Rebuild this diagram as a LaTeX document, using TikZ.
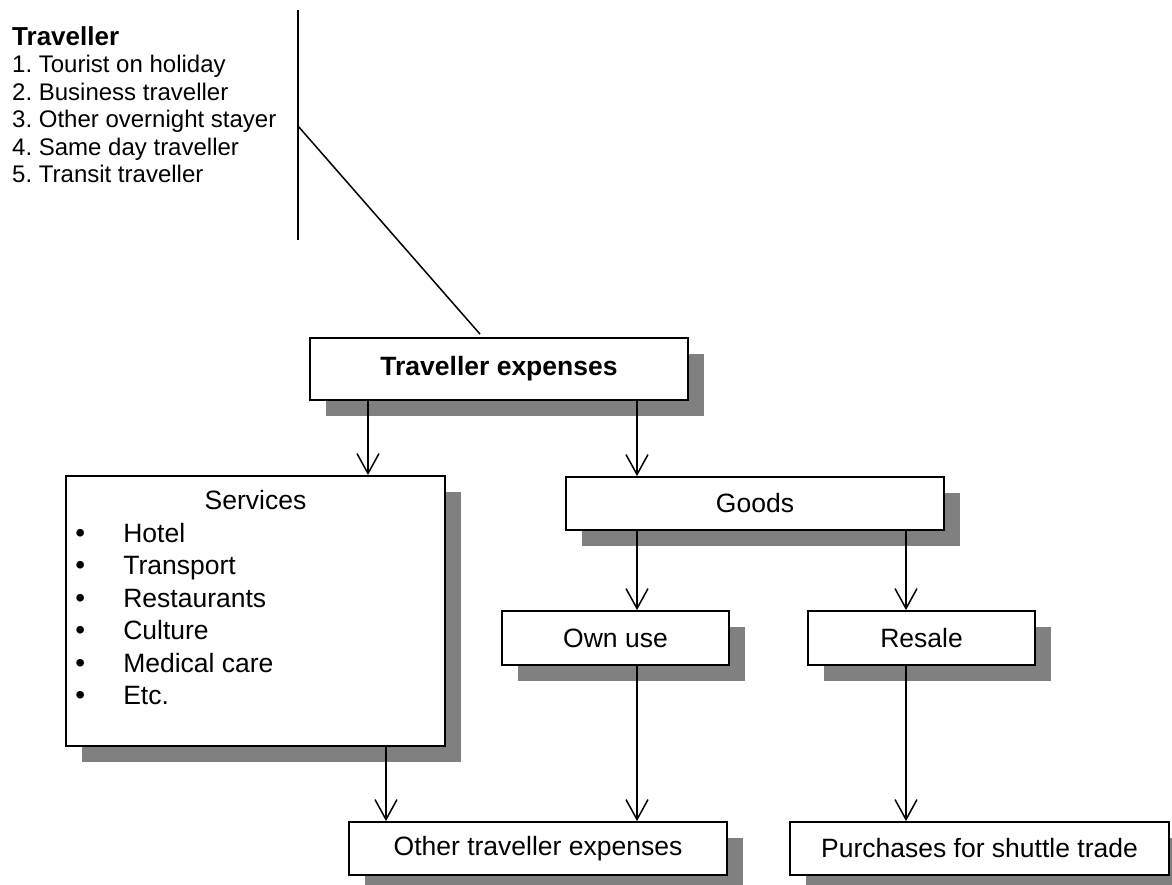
\documentclass[tikz,border=0pt]{standalone}
\usepackage{fontspec}
\setmainfont{Liberation Sans}
\usetikzlibrary{shadows,arrows.meta}
\frenchspacing
\newcommand{\gros}{{\fontsize{28}{28}\selectfont\textbullet}}

\begin{document}
\begin{tikzpicture}[
        x=1pt, y=-1pt,
        box/.style={draw=black, line width=1.8pt, fill=white, inner sep=0pt,
            drop shadow={shadow xshift=16pt, shadow yshift=-16pt, fill=black!50, opacity=1},
            font=\fontsize{26.5}{32.5}\selectfont},
        arr/.style={line width=1.5pt, -{Straight Barb[length=20pt,width=22pt]}},
        ligne/.style={line width=1.5pt},
    ]
    \useasboundingbox (0,0) rectangle (1172,885);
    % traveller types
    \node[anchor=north west, align=left, inner sep=0pt, font=\fontsize{24}{27.5}\selectfont] (trav) at (12,26)
        {{\bfseries\fontsize{26}{27.5}\selectfont Traveller}\\
        1. Tourist on holiday\\
        2. Business traveller\\
        3. Other overnight stayer\\
        4. Same day traveller\\
        5. Transit traveller};
    \coordinate (vtop) at (298,10);
    \coordinate (vbot) at (298,240);
    \coordinate (vmid) at (298,126);

    \node[box, minimum width=378pt, minimum height=62pt, font=\bfseries\fontsize{26.5}{32.5}\selectfont] (te) at (499,369) {Traveller expenses};
    \node[box, minimum width=379pt, minimum height=270pt] (serv) at (255.5,611) {};
    \node[anchor=base, font=\fontsize{26.5}{32.5}\selectfont] (servtitle) at ([yshift=-34pt]serv.north) {Services};
    \node[anchor=base west, inner sep=0pt, font=\fontsize{26.5}{32.5}\selectfont] (servlist) at ([xshift=10pt,yshift=-67pt]serv.north west)
        {\begin{tabular}[t]{@{}p{48pt}@{}l@{}}
            \gros & Hotel\\
            \gros & Transport\\
            \gros & Restaurants\\
            \gros & Culture\\
            \gros & Medical care\\
            \gros & Etc.
        \end{tabular}};
    \node[box, minimum width=378pt, minimum height=53pt] (goods) at (755,503.5) {Goods};
    \node[box, minimum width=227pt, minimum height=54pt] (own) at (615.5,638) {Own use};
    \node[box, minimum width=227pt, minimum height=54pt] (resale) at (921.5,638) {Resale};
    \node[box, minimum width=378pt, minimum height=53pt] (other) at (538,848.5) {Other traveller expenses};
    \node[box, minimum width=379pt, minimum height=53pt] (shuttle) at (979.5,848.5) {Purchases for shuttle trade};

    \coordinate (te-l) at ([xshift=-131pt]te.south);
    \coordinate (te-r) at ([xshift=138pt]te.south);
    \coordinate (gd-l) at ([xshift=-118pt]goods.south);
    \coordinate (gd-r) at ([xshift=151pt]goods.south);
    \coordinate (sv-b) at ([xshift=130.5pt]serv.south);
    \coordinate (ou-b) at ([xshift=21.5pt]own.south);
    \coordinate (rs-b) at ([xshift=-15.5pt]resale.south);
    \coordinate (diag) at ([xshift=-19pt,yshift=3pt]te.north);

    \draw[ligne] (vtop) -- (vbot);
    \draw[ligne] (vmid) -- (diag);
    \draw[arr] (te-l) -- (te-l |- serv.north);
    \draw[arr] (te-r) -- (te-r |- goods.north);
    \draw[arr] (gd-l) -- (gd-l |- own.north);
    \draw[arr] (gd-r) -- (gd-r |- resale.north);
    \draw[arr] (sv-b) -- (sv-b |- other.north);
    \draw[arr] (ou-b) -- (ou-b |- other.north);
    \draw[arr] (rs-b) -- (rs-b |- shuttle.north);
\end{tikzpicture}
\end{document}
